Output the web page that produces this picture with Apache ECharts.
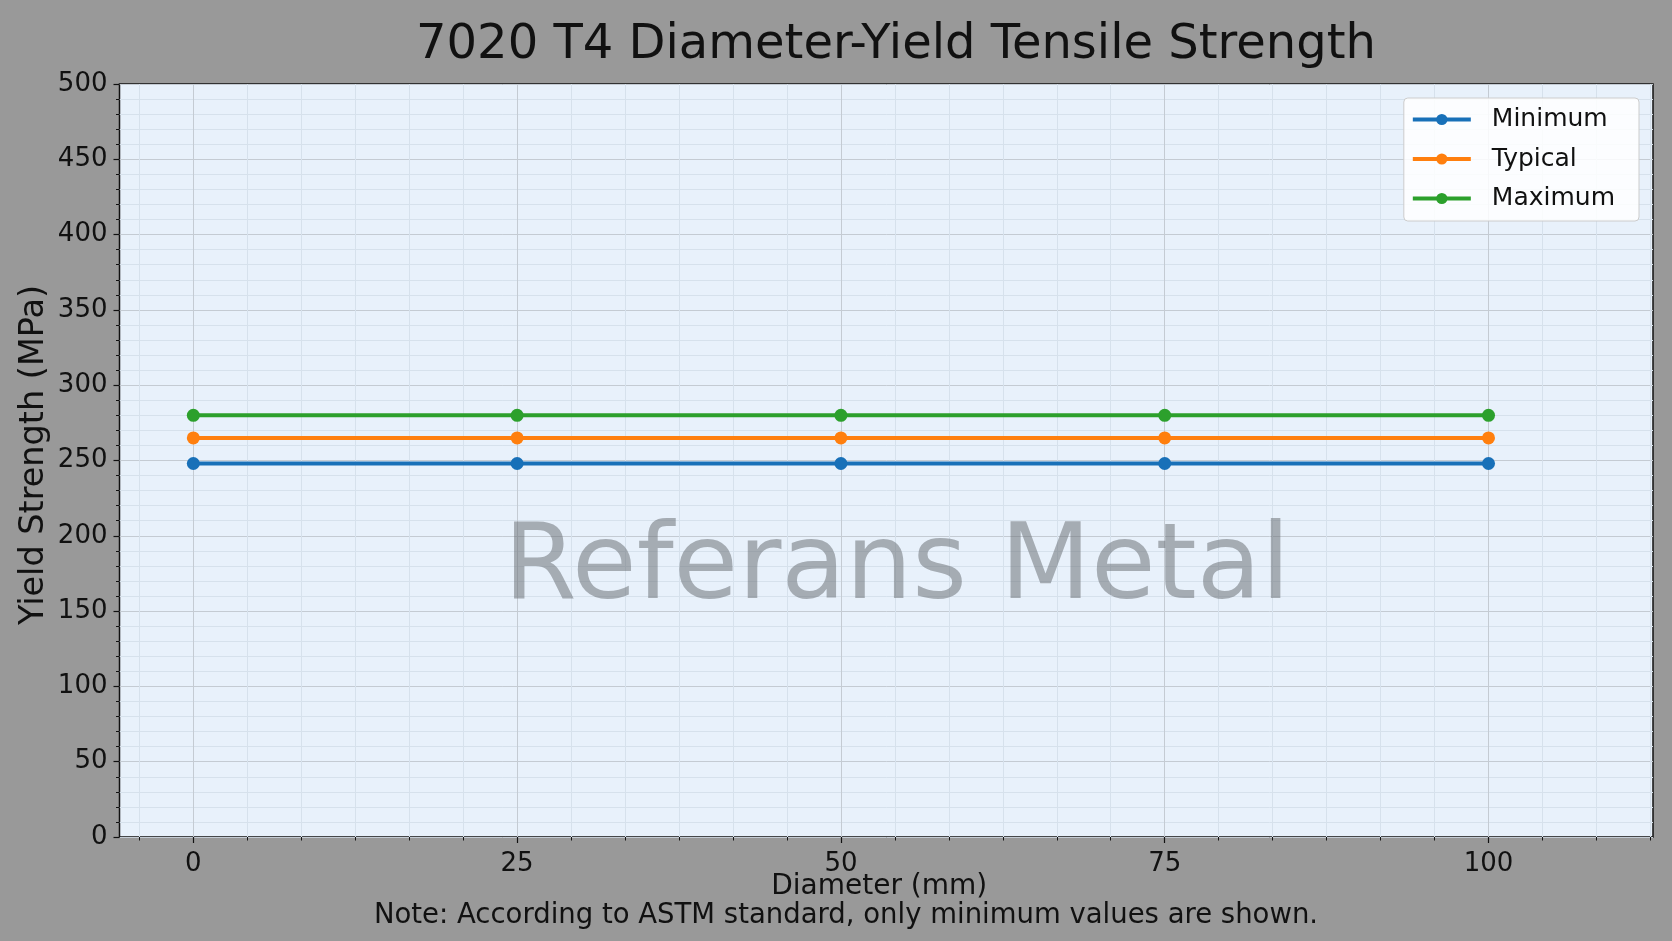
<!DOCTYPE html>
<html>
<head>
<meta charset="utf-8">
<title>7020 T4 Diameter-Yield Tensile Strength</title>
<script src="https://cdn.jsdelivr.net/npm/echarts@6/dist/echarts.min.js"></script>
<style>
  html, body { margin: 0; padding: 0; background: #999999; }
  #chart { width: 1672px; height: 941px; }
</style>
</head>
<body>
<div id="chart"></div>
<script>
// data
var diameters = [0, 25, 50, 75, 100];
var minimumVals = [248, 248, 248, 248, 248];
var typicalVals = [265, 265, 265, 265, 265];
var maximumVals = [280, 280, 280, 280, 280];
var xTicks = [0, 25, 50, 75, 100];
var seriesNames = ['Minimum', 'Typical', 'Maximum'];
var seriesColors = ['#1870b8', '#ff7f0e', '#2ca02c'];

var xMin = -5.7, xMax = 112.7;
var xMinorStep = 25 / 6;
var FONT = 'DejaVu Sans';

// minor tick positions for the x axis (every 1/6 of a major step)
var xMinor = [];
for (var k = Math.ceil(xMin / xMinorStep); k <= Math.floor(xMax / xMinorStep); k++) {
  if (k % 6 !== 0) xMinor.push(+(k * xMinorStep).toFixed(4));
}

function pairs(vals) {
  return diameters.map(function (d, i) { return [d, vals[i]]; });
}

try {
  var chart = echarts.init(document.getElementById('chart'));
  var allVals = [minimumVals, typicalVals, maximumVals];

  var option = {
    backgroundColor: '#999999',
    animation: false,
    textStyle: { fontFamily: FONT },
    grid: {
      left: 119.5,
      right: 19,
      top: 84,
      bottom: 104,
      show: true,
      backgroundColor: '#e8f1fb',
      borderColor: '#111111',
      borderWidth: 1.5,
      z: 0
    },
    legend: {
      data: seriesNames,
      orient: 'vertical',
      right: 33,
      top: 98,
      padding: [9, 24, 10, 7],
      itemWidth: 58,
      itemHeight: 14,
      itemGap: 14.5,
      lineStyle: { width: 4 },
      backgroundColor: 'rgba(255,255,255,0.85)',
      borderColor: '#cccccc',
      borderWidth: 1,
      borderRadius: 4,
      textStyle: { fontFamily: FONT, fontSize: 25, color: '#111', padding: [0, 0, 0, 16] }
    },
    xAxis: [{
      type: 'value',
      min: xMin,
      max: xMax,
      name: 'Diameter (mm)',
      nameLocation: 'middle',
      nameGap: 36,
      nameMoveOverlap: false,
      nameTextStyle: { fontFamily: FONT, fontSize: 28, color: '#111', padding: [0, 14, 0, 0] },
      axisLine: { show: false, onZero: false },
      axisTick: { show: true, inside: false, length: 6, customValues: xTicks, lineStyle: { color: '#111', width: 1.2 } },
      axisLabel: { show: true, customValues: xTicks, margin: 14, fontFamily: FONT, fontSize: 26, color: '#111' },
      splitLine: { show: true, lineStyle: { color: '#c4cbd3', width: 1 } }
    }, {
      type: 'value',
      min: xMin,
      max: xMax,
      position: 'bottom',
      axisLine: { show: false, onZero: false },
      axisTick: { show: true, inside: false, length: 3.5, customValues: xMinor, lineStyle: { color: '#111', width: 1 } },
      axisLabel: { show: false },
      splitLine: { show: true, lineStyle: { color: '#d6e1ec', width: 1 } }
    }],
    yAxis: {
      type: 'value',
      min: 0,
      max: 500,
      interval: 50,
      name: 'Yield Strength (MPa)',
      nameLocation: 'middle',
      nameGap: 68,
      nameMoveOverlap: false,
      nameTextStyle: { fontFamily: FONT, fontSize: 33.5, color: '#111', padding: [0, 0, 0, 11] },
      axisLine: { show: false, onZero: false },
      axisTick: { show: true, inside: false, length: 6, lineStyle: { color: '#111', width: 1.2 } },
      minorTick: { show: true, splitNumber: 5, length: 3.5, lineStyle: { color: '#111', width: 1 } },
      axisLabel: { margin: 12, fontFamily: FONT, fontSize: 26, color: '#111' },
      splitLine: { show: true, lineStyle: { color: '#c4cbd3', width: 1 } },
      minorSplitLine: { show: true, lineStyle: { color: '#d6e1ec', width: 1 } }
    },
    graphic: [{
      type: 'text',
      x: 896,
      y: 46,
      style: {
        text: '7020 T4 Diameter-Yield Tensile Strength',
        font: '48px "DejaVu Sans"',
        fill: '#111',
        textAlign: 'center',
        textVerticalAlign: 'middle'
      }
    }, {
      type: 'text',
      x: 897,
      y: 571,
      z: 1,
      style: {
        text: 'Referans Metal',
        font: '105px "DejaVu Sans"',
        fill: 'rgba(110,115,120,0.55)',
        textAlign: 'center',
        textVerticalAlign: 'middle'
      }
    }, {
      type: 'text',
      x: 846,
      y: 916,
      style: {
        text: 'Note: According to ASTM standard, only minimum values are shown.',
        font: '27.5px "DejaVu Sans"',
        fill: '#111',
        textAlign: 'center',
        textVerticalAlign: 'middle'
      }
    }],
    series: seriesNames.map(function (name, i) {
      return {
        name: name,
        type: 'line',
        xAxisIndex: 0,
        data: pairs(allVals[i]),
        symbol: 'circle',
        symbolSize: 13,
        color: seriesColors[i],
        lineStyle: { width: 4, color: seriesColors[i] },
        itemStyle: { color: seriesColors[i] },
        z: 3 + i
      };
    })
  };

  chart.setOption(option);
} catch (err) {
  console.error(err);
}
</script>
</body>
</html>
